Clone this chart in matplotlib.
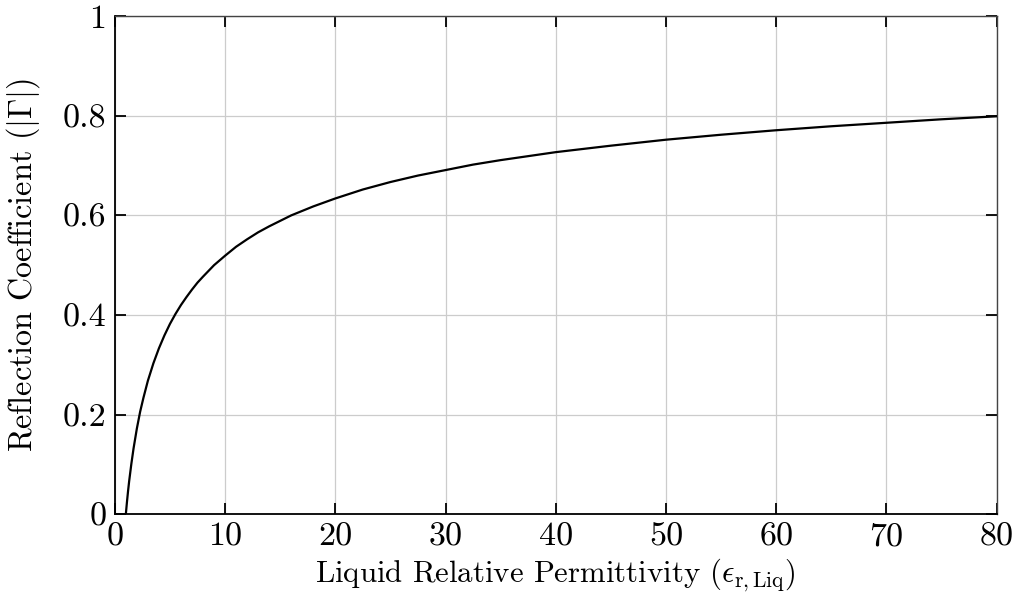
#!/usr/bin/env python

import numpy as np
import matplotlib
matplotlib.use('Agg')
import matplotlib.pyplot as plt

# relative permittivity of the liquid and the matching reflection coefficient magnitude
eps_liq = [1.0, 1.05, 1.1, 1.2, 1.3, 1.5, 1.7, 2.0, 2.3, 2.6, 3.0, 3.5, 4.0, 4.5,
           5.0, 5.5, 6.0, 6.5, 7.0, 7.5, 8.0, 9.0, 10.0, 11.0, 12.0, 13.0, 14.0,
           15.0, 16.0, 18.0, 20.0, 22.5, 25.0, 27.5, 30.0, 32.5, 35.0, 37.5, 40.0,
           45.0, 50.0, 55.0, 60.0, 65.0, 70.0, 75.0, 80.0]
gamma_abs = [0.0, 0.012, 0.024, 0.046, 0.066, 0.101, 0.132, 0.172, 0.206, 0.234,
             0.268, 0.303, 0.333, 0.359, 0.382, 0.402, 0.420, 0.436, 0.451, 0.465,
             0.477, 0.500, 0.519, 0.537, 0.552, 0.566, 0.578, 0.589, 0.600, 0.618,
             0.634, 0.652, 0.667, 0.680, 0.691, 0.702, 0.711, 0.719, 0.727, 0.740,
             0.752, 0.762, 0.771, 0.779, 0.786, 0.793, 0.799]

x_ticks = [0, 10, 20, 30, 40, 50, 60, 70, 80]
y_ticks = [0, 0.2, 0.4, 0.6, 0.8, 1]
y_tick_labels = ['0', '0.2', '0.4', '0.6', '0.8', '1']

plt.rcParams['font.family'] = 'serif'
plt.rcParams['font.serif'] = ['cmr10']
plt.rcParams['mathtext.fontset'] = 'cm'
plt.rcParams['axes.unicode_minus'] = False

fig = plt.figure(figsize=(10.16, 6), dpi=100)
ax = fig.add_axes([0.113, 0.143, 0.868, 0.830])

ax.plot(eps_liq, gamma_abs, color='black', lw=1.6, zorder=3)

ax.set_xlim(0, 80)
ax.set_ylim(0, 1)
ax.set_xticks(x_ticks)
ax.set_xticklabels([str(t) for t in x_ticks])
ax.set_yticks(y_ticks)
ax.set_yticklabels(y_tick_labels)

ax.grid(True, color='#cccccc', lw=0.9, zorder=0)
ax.tick_params(direction='in', length=8, width=1.3, top=True, right=True,
               labelsize=24.5, pad=6)

for side in ['left', 'bottom']:
    ax.spines[side].set_linewidth(1.3)
for side in ['top', 'right']:
    ax.spines[side].set_color('#444444')
    ax.spines[side].set_linewidth(1.0)

ax.set_xlabel(r'Liquid Relative Permittivity ($\epsilon_{\rm r,Liq}$)', fontsize=22.2, labelpad=4)
ax.set_ylabel(r'Reflection Coefficient ($|\Gamma|$)', fontsize=23.2, labelpad=15)

fig.savefig('out.png', dpi=100)
